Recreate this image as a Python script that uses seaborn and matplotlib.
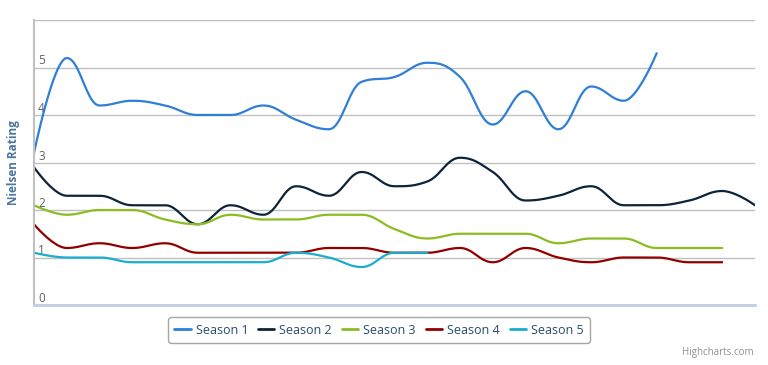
import matplotlib
matplotlib.use("Agg")
import matplotlib.pyplot as plt
import numpy as np
import pandas as pd
import seaborn as sns

# values (one point per episode)
season_names = ["Season 1", "Season 2", "Season 3", "Season 4", "Season 5"]
season_1 = [3.2, 5.2, 4.2, 4.3, 4.2, 4.0, 4.0, 4.2, 3.9, 3.7, 4.7, 4.8, 5.1, 4.8, 3.8, 4.5, 3.7, 4.6, 4.3, 5.3]
season_2 = [2.9, 2.3, 2.3, 2.1, 2.1, 1.7, 2.1, 1.9, 2.5, 2.3, 2.8, 2.5, 2.6, 3.1, 2.8, 2.2, 2.3, 2.5, 2.1, 2.1, 2.2, 2.4, 2.1]
season_3 = [2.1, 1.9, 2.0, 2.0, 1.8, 1.7, 1.9, 1.8, 1.8, 1.9, 1.9, 1.6, 1.4, 1.5, 1.5, 1.5, 1.3, 1.4, 1.4, 1.2, 1.2, 1.2]
season_4 = [1.7, 1.2, 1.3, 1.2, 1.3, 1.1, 1.1, 1.1, 1.1, 1.2, 1.2, 1.1, 1.1, 1.2, 0.9, 1.2, 1.0, 0.9, 1.0, 1.0, 0.9, 0.9]
season_5 = [1.1, 1.0, 1.0, 0.9, 0.9, 0.9, 0.9, 0.9, 1.1, 1.0, 0.8, 1.1, 1.1]
colors = ["#2f7ed8", "#0d233a", "#8bbc21", "#910000", "#1aadce"]


def spline_path(ys, smoothing=1.5, steps=24):
    # highcharts-style spline: cubic bezier segments with clamped control points
    xs = np.arange(len(ys), dtype=float)
    ys = np.asarray(ys, dtype=float)
    n = len(ys)
    left = [(xs[i], ys[i]) for i in range(n)]
    right = [(xs[i], ys[i]) for i in range(n)]
    denom = smoothing + 1
    for i in range(1, n - 1):
        px, py = xs[i], ys[i]
        lx, ly = xs[i - 1], ys[i - 1]
        nx, ny = xs[i + 1], ys[i + 1]
        lcx = (smoothing * px + lx) / denom
        lcy = (smoothing * py + ly) / denom
        rcx = (smoothing * px + nx) / denom
        rcy = (smoothing * py + ny) / denom
        corr = (rcy - lcy) * (rcx - px) / (rcx - lcx) + py - rcy
        lcy += corr
        rcy += corr
        if lcy > ly and lcy > py:
            lcy = max(ly, py)
            rcy = 2 * py - lcy
        elif lcy < ly and lcy < py:
            lcy = min(ly, py)
            rcy = 2 * py - lcy
        if rcy > ny and rcy > py:
            rcy = max(ny, py)
            lcy = 2 * py - rcy
        elif rcy < ny and rcy < py:
            rcy = min(ny, py)
            lcy = 2 * py - rcy
        left[i] = (lcx, lcy)
        right[i] = (rcx, rcy)
    t = np.linspace(0, 1, steps)[:, None]
    pts = [np.array([[xs[0], ys[0]]])]
    for i in range(1, n):
        p0 = np.array([xs[i - 1], ys[i - 1]])
        p1 = np.array(right[i - 1])
        p2 = np.array(left[i])
        p3 = np.array([xs[i], ys[i]])
        seg = ((1 - t) ** 3) * p0 + 3 * ((1 - t) ** 2) * t * p1 + 3 * (1 - t) * t ** 2 * p2 + t ** 3 * p3
        pts.append(seg[1:])
    return np.vstack(pts)


sns.set_style("white")
plt.rcParams["font.family"] = ["Open Sans", "DejaVu Sans"]

frames = []
for name, vals in zip(season_names, [season_1, season_2, season_3, season_4, season_5]):
    curve = spline_path(vals)
    frames.append(pd.DataFrame({"x": curve[:, 0], "y": curve[:, 1], "season": name,
                                "order": np.arange(len(curve))}))
df = pd.concat(frames, ignore_index=True)

fig = plt.figure(figsize=(7.68, 3.65), dpi=100)
ax = fig.add_axes([34 / 768, 1 - 305 / 365, 721 / 768, 285 / 365])

sns.lineplot(data=df, x="x", y="y", hue="season", palette=colors, sort=False,
             estimator=None, units="season", linewidth=1.6, ax=ax, legend=False)

ax.set_xlim(0, 22)
ax.set_ylim(0, 6)
ax.set_yticks(range(0, 7))
ax.set_yticklabels(["0", "1", "2", "3", "4", "5", ""])
ax.set_xticks(range(0, 23, 2))
ax.set_xticklabels([])
ax.yaxis.grid(True, color="#c0c0c0", linewidth=1)
ax.xaxis.grid(False)
ax.set_axisbelow(True)

ax.tick_params(axis="y", length=0, pad=-3, labelsize=8.5, labelcolor="#606060")
for lab in ax.get_yticklabels():
    lab.set_horizontalalignment("left")
    lab.set_verticalalignment("bottom")
ax.tick_params(axis="x", length=5, width=1, color="#c0d0e0", direction="out")

for side in ["top", "right"]:
    ax.spines[side].set_visible(False)
ax.spines["left"].set_color("#c0c0c0")
ax.spines["left"].set_linewidth(1.5)
ax.spines["bottom"].set_color("#c0d0e0")
ax.spines["bottom"].set_linewidth(2)

ax.set_xlabel("")
ax.set_ylabel("Nielsen Rating", fontsize=8.5, fontweight="bold", color="#4d759e")
ax.yaxis.set_label_coords(-14 / 721, 0.5)

handles = [plt.Line2D([], [], color=c, linewidth=2) for c in colors]
leg = fig.legend(handles, season_names, loc="center", bbox_to_anchor=(379 / 768, 1 - 330 / 365),
                 ncol=5, frameon=True, fancybox=True, fontsize=9, handlelength=1.3,
                 handletextpad=0.4, columnspacing=0.8, borderpad=0.5)
leg.get_frame().set_edgecolor("#909090")
leg.get_frame().set_linewidth(1)
for txt in leg.get_texts():
    txt.set_color("#274b6d")

fig.text(754 / 768, 1 - 352 / 365, "Highcharts.com", ha="right", va="center",
         fontsize=7, color="#909090")

fig.savefig("out.png", dpi=100)
